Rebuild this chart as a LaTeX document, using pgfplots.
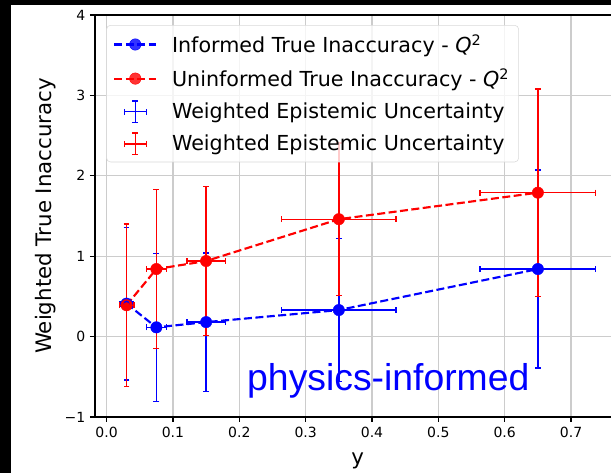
\documentclass[border=0pt]{standalone}
\usepackage{pgfplots}
\usepackage{pgfplotstable}
\pgfplotsset{compat=1.18}
\usepackage{fontspec}
\setmainfont{DejaVu Sans}
\newfontfamily\arialfont{Liberation Sans}

\pgfplotstableread{
x     y      ex     ey
0.03  0.41   0.010  0.95
0.075 0.115  0.015  0.92
0.15  0.18   0.029  0.86
0.35  0.33   0.086  0.89
0.65  0.84   0.087  1.23
}\informed
\pgfplotstableread{
x     y      ex     ey
0.03  0.39   0.011  1.01
0.075 0.84   0.015  0.99
0.15  0.94   0.029  0.93
0.35  1.46   0.086  0.95
0.65  1.79   0.087  1.29
}\uninformed

\begin{document}
\begin{tikzpicture}
\path[use as bounding box] (-71.25pt,-42pt) rectangle (387pt,312.75pt);
\fill[black] (-71.25pt,-42pt) rectangle (387pt,312.75pt);
\fill[white] (-63pt,-42pt) rectangle (387pt,309pt);
\clip (-63pt,-42pt) rectangle (387pt,309pt);
\begin{axis}[
  at={(0pt,0pt)}, anchor=south west,
  scale only axis, width=394.1pt, height=301.5pt,
  xmin=-0.0175, xmax=0.7745, ymin=-1, ymax=4,
  xtick={0,0.1,0.2,0.3,0.4,0.5,0.6,0.7},
  xticklabels={0.0,0.1,0.2,0.3,0.4,0.5,0.6,0.7},
  ytick={-1,0,1,2,3,4},
  yticklabels={−1,0,1,2,3,4},
  xtick pos=left, ytick pos=left,
  tick align=outside, major tick length=3.75pt,
  tick style={black, line width=0.9pt},
  axis line style={line width=0.9pt},
  grid=major, major grid style={gray!40, line width=1pt},
  ticklabel style={font=\fontsize{10.5}{12}\selectfont},
  xlabel={y}, ylabel={Weighted True Inaccuracy},
  label style={font=\fontsize{16}{19}\selectfont},
  xlabel style={at={(axis description cs:0.5,-0.109)}, anchor=center},
  ylabel style={at={(axis description cs:-0.0934,0.5)}, anchor=center},
  legend style={at={(axis description cs:0.0215,0.975)}, anchor=north west,
    draw=gray!30, rounded corners=3pt, fill=white, fill opacity=0.8, text opacity=1,
    font=\fontsize{15.5}{18}\selectfont, row sep=6.8pt, inner sep=5pt,
    /tikz/every odd column/.append style={column sep=9pt}},
  legend cell align=left,
  legend image code/.code={\draw[#1, mark repeat=2, mark phase=2] plot coordinates {(0pt,0pt) (15.75pt,0pt) (31.5pt,0pt)};},
]
\addplot[blue, line width=1.6pt, dash pattern=on 6pt off 2.6pt, mark=*, mark size=4.3pt,
  mark options={solid, fill=blue, draw=blue, line width=0.3pt}]
  table[x=x, y=y] {\informed};
\addlegendentry{Informed True Inaccuracy - \textit{Q}\textsuperscript{2}}
\addplot[red, line width=1.6pt, dash pattern=on 6pt off 2.6pt, mark=*, mark size=4.3pt,
  mark options={solid, fill=red, draw=red, line width=0.3pt}]
  table[x=x, y=y] {\uninformed};
\addlegendentry{Uninformed True Inaccuracy - \textit{Q}\textsuperscript{2}}
\addplot[blue, only marks, mark=none, forget plot,
  error bars/.cd, x dir=both, x explicit, y dir=both, y explicit, error mark=-,
  error bar style={solid, line width=1.05pt},
  error mark options={rotate=90, solid, mark size=2.2pt, line width=1.05pt}]
  table[x=x, y=y, x error=ex, y error=ey] {\informed};
\addplot[red, only marks, mark=none, forget plot,
  error bars/.cd, x dir=both, x explicit, y dir=both, y explicit, error mark=-,
  error bar style={solid, line width=1.05pt},
  error mark options={rotate=90, solid, mark size=2.2pt, line width=1.05pt}]
  table[x=x, y=y, x error=ex, y error=ey] {\uninformed};
\addlegendimage{blue, legend image code/.code={
  \draw[blue, line width=1.05pt] (7.5pt,0pt) -- (24pt,0pt);
  \draw[blue, line width=1.05pt] (15.75pt,-8pt) -- (15.75pt,8pt);
  \draw[blue, line width=1.05pt] (7.5pt,-2.2pt) -- (7.5pt,2.2pt) (24pt,-2.2pt) -- (24pt,2.2pt);
  \draw[blue, line width=1.05pt] (13.55pt,8pt) -- (17.95pt,8pt) (13.55pt,-8pt) -- (17.95pt,-8pt);}}
\addlegendentry{Weighted Epistemic Uncertainty}
\addlegendimage{red, legend image code/.code={
  \draw[red, line width=1.05pt] (7.5pt,0pt) -- (24pt,0pt);
  \draw[red, line width=1.05pt] (15.75pt,-8pt) -- (15.75pt,8pt);
  \draw[red, line width=1.05pt] (7.5pt,-2.2pt) -- (7.5pt,2.2pt) (24pt,-2.2pt) -- (24pt,2.2pt);
  \draw[red, line width=1.05pt] (13.55pt,8pt) -- (17.95pt,8pt) (13.55pt,-8pt) -- (17.95pt,-8pt);}}
\addlegendentry{Weighted Epistemic Uncertainty}
\node[font=\arialfont\fontsize{28}{30}\selectfont, text=blue, anchor=base] at (axis cs:0.4246,-0.67) {physics-informed};
\end{axis}
\end{tikzpicture}
\end{document}
